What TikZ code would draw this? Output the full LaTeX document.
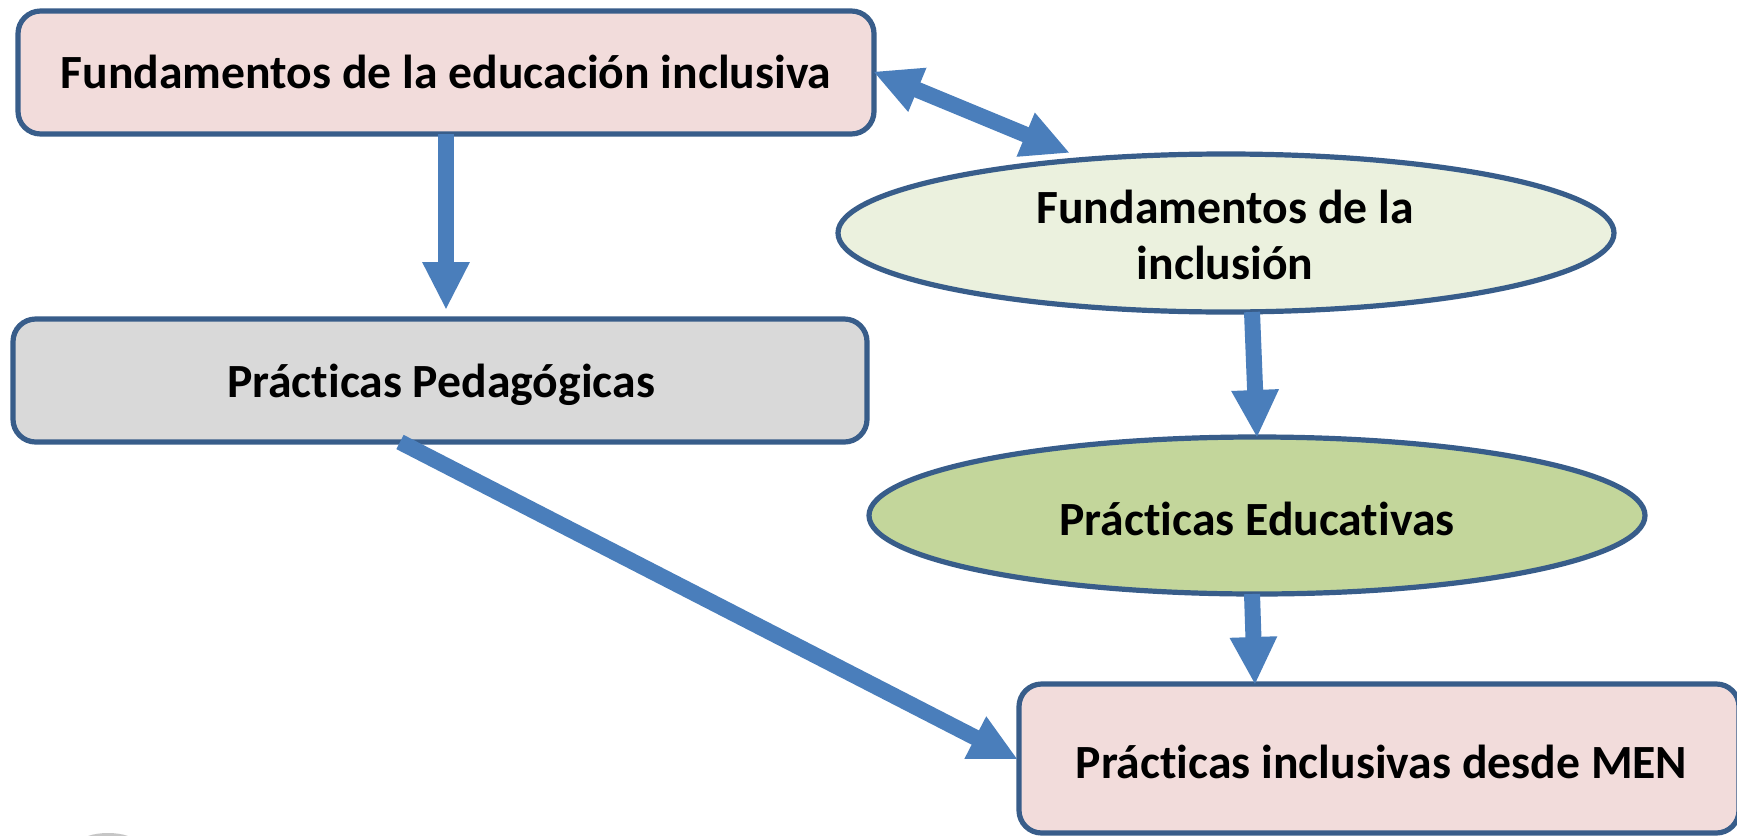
\documentclass[tikz,border=0pt]{standalone}
\usepackage{fontspec}
\setmainfont[RawFeature={-liga}]{Carlito}
\usetikzlibrary{arrows.meta,calc,shapes.geometric}
\definecolor{pinkf}{HTML}{F2DCDB}
\definecolor{grayf}{HTML}{D9D9D9}
\definecolor{palegreen}{HTML}{EBF1DE}
\definecolor{midgreen}{HTML}{C3D69B}
\definecolor{edgeblue}{HTML}{385D8A}
\definecolor{arrowblue}{HTML}{4A7EBB}
\tikzset{
  x=0.75pt,y=-0.75pt,
  lbl/.style={font=\bfseries\fontsize{35.75pt}{42.4pt}\selectfont,align=center,text=black,inner sep=0pt,outer sep=0pt},
  boxn/.style={lbl,draw=edgeblue,line width=3.9pt,rounded corners=17pt},
  elln/.style={lbl,ellipse,draw=edgeblue,line width=3.9pt},
  conn/.style={draw=arrowblue,line width=12pt,-{Triangle[length=36pt,width=33pt]}},
  biconn/.style={draw=arrowblue,line width=12pt,{Triangle[length=36pt,width=33pt]}-{Triangle[length=36pt,width=33pt]}},
}
\begin{document}
\begin{tikzpicture}
\clip (0,0) rectangle (1737,835);
\fill[white] (0,0) rectangle (1737,835);
\fill[gray!45] (108,843) ellipse (28 and 10);
\node[boxn,fill=pinkf,minimum width=642pt,minimum height=92.25pt] (fei) at (446,72.5) {};
\node[lbl] at (446,72) {Fundamentos de la educación inclusiva};
\node[boxn,fill=grayf,minimum width=640.5pt,minimum height=92.25pt] (pp) at (440,380.5) {};
\node[lbl] at (441,385) {Prácticas Pedagógicas};
\node[elln,fill=palegreen,minimum width=582pt,minimum height=118.5pt] (fi) at (1226,233) {};
\node[lbl] at (1225,235) {Fundamentos de la\\inclusión};
\node[elln,fill=midgreen,minimum width=582pt,minimum height=117.75pt] (pe) at (1257,515.5) {};
\node[lbl] at (1257,519) {Prácticas Educativas};
\node[boxn,fill=pinkf,minimum width=540pt,minimum height=111.75pt] (pim) at (1379,758.5) {};
\node[lbl] at (1381.5,762) {Prácticas inclusivas desde MEN};
\draw[conn] (fei.south) -- ($(pp.north)+(6,-9)$);
\draw[conn] ($(fi.south)+(26,0)$) -- ($(pe.north)+(0,1)$);
\draw[conn] ($(pe.south)+(-5,0)$) -- ($(pim.north)+(-124,1)$);
\coordinate (ppout) at ($(pp.south)+(-40,0)$);
\coordinate (pimin) at ($(pim.west)+(-1,1)$);
\draw[conn] (ppout) -- (pimin);
\coordinate (feiout) at ($(fei.east)+(-1,-1)$);
\coordinate (fiin) at ($(fi.north)+(-156,-1)$);
\draw[biconn] (feiout) -- (fiin);
\end{tikzpicture}
\end{document}
